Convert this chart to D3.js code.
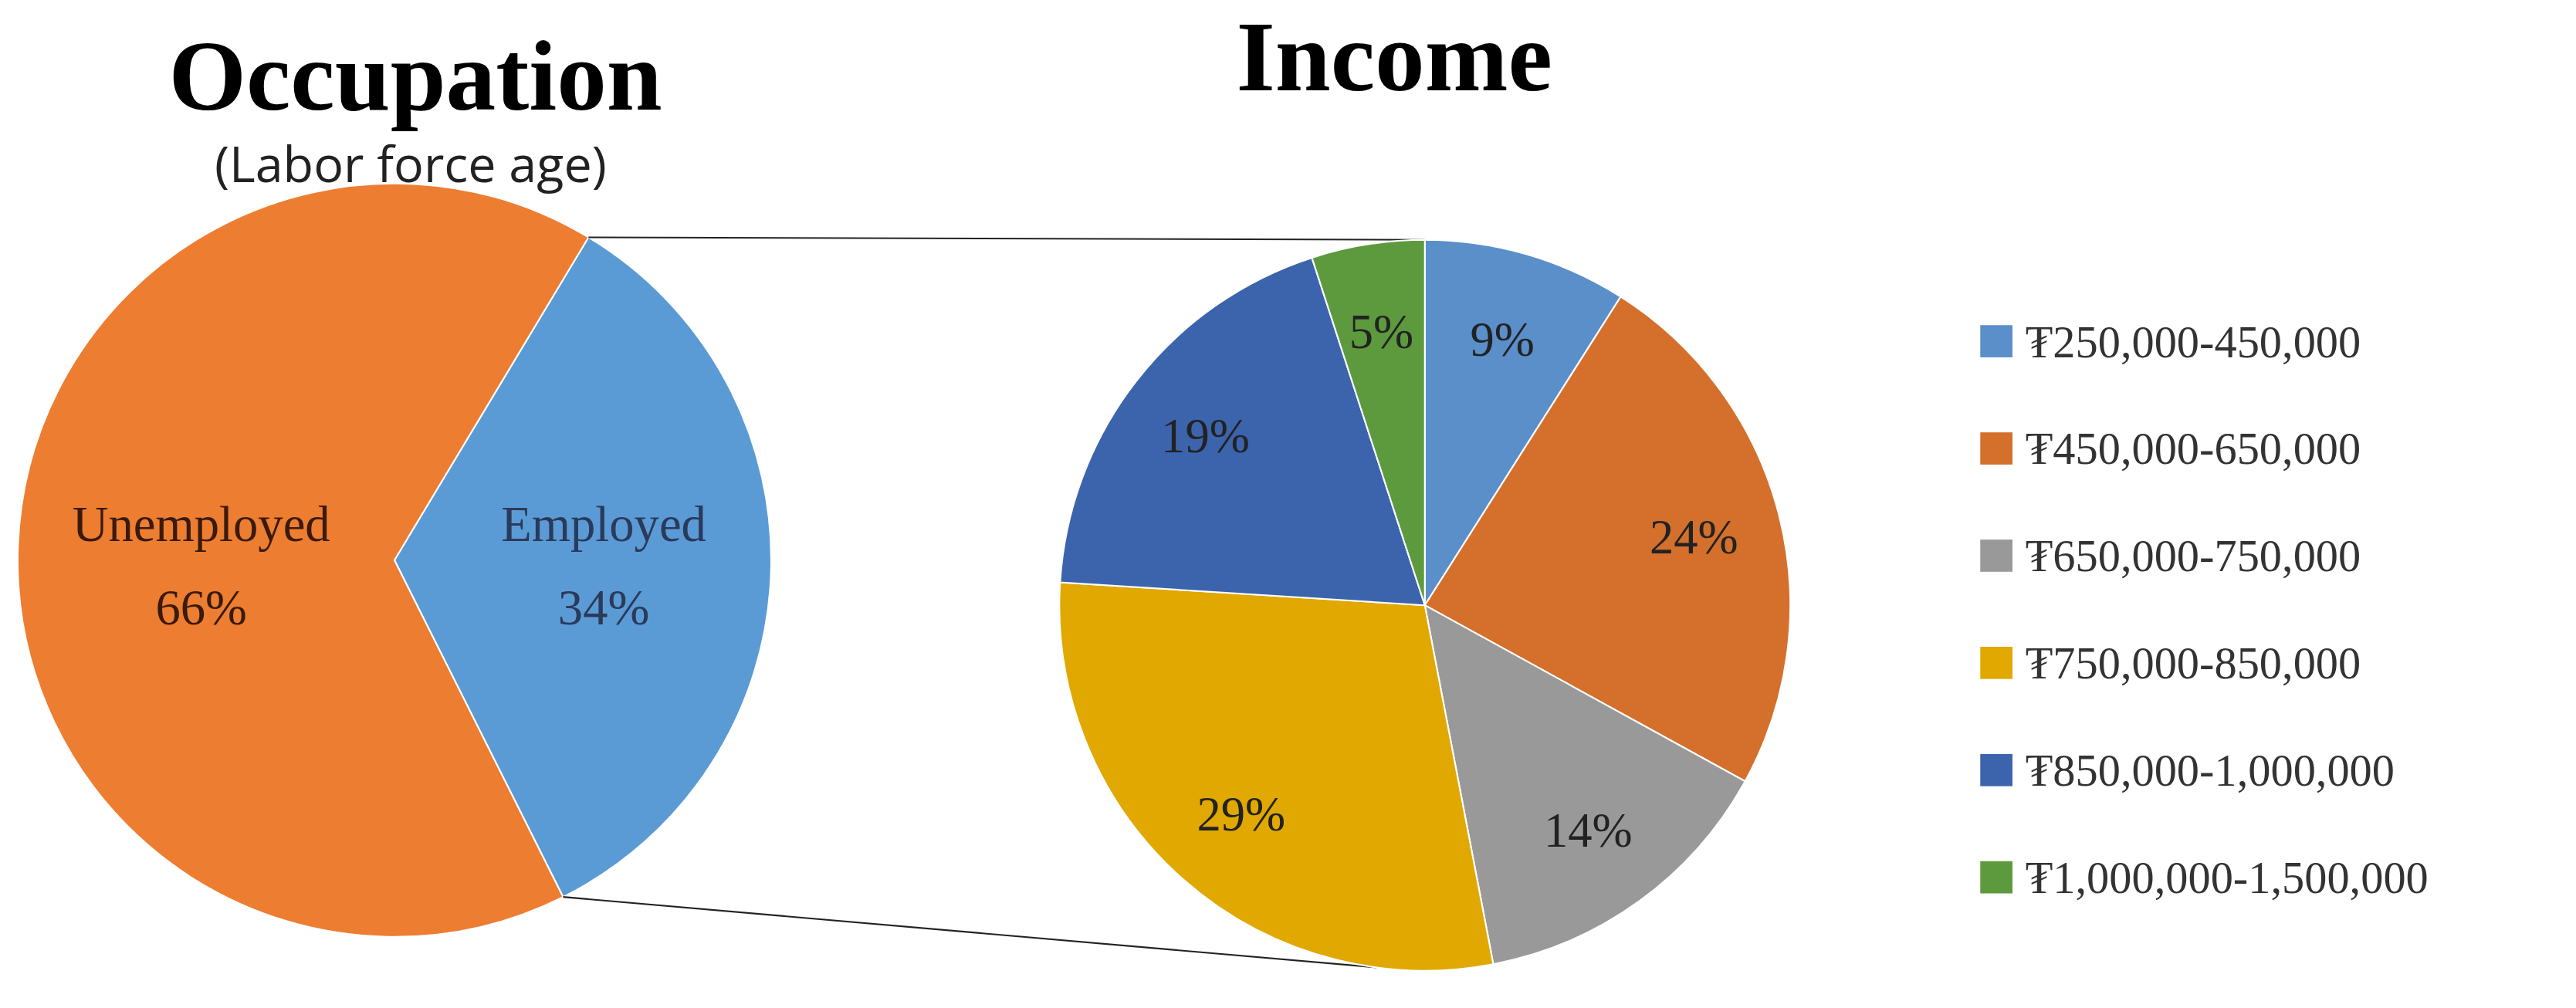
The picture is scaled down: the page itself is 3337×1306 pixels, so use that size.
<!DOCTYPE html><html><head><meta charset="utf-8">
<script src="https://cdn.jsdelivr.net/npm/d3@7"></script>
<style>body{margin:0;background:#fff}</style></head><body>
<svg id="c" width="3337" height="1306"></svg>
<script>
const occCategories=["Employed","Unemployed"];
const occValues=[34,66];
const occColors=["#5b9bd5","#ed7d31"];
const incCategories=["₮250,000-450,000","₮450,000-650,000","₮650,000-750,000","₮750,000-850,000","₮850,000-1,000,000","₮1,000,000-1,500,000"];
const incValues=[9,24,14,29,19,5];
const incColors=["#5a8fca","#d4702b","#999999","#e0a800","#3c64ad","#5d9a3e"];
const svg=d3.select("#c").append("g").attr("transform","scale(2.0856)");
const serif="'Liberation Serif','DejaVu Serif',serif";
const c1=[245,348],r1=234;
const start1=31*Math.PI/180;
const pie1=d3.pie().sort(null).startAngle(start1).endAngle(start1+2*Math.PI)(occValues);
const arc1=d3.arc().innerRadius(0).outerRadius(r1);
const g1=svg.append("g").attr("transform",`translate(${c1})`);
g1.selectAll("path").data(pie1).join("path").attr("d",arc1).attr("fill",(d,i)=>occColors[i]).attr("stroke","#fff").attr("stroke-width",1);
const lab1=[[130,-12],[-120,-12]];
pie1.forEach((d,i)=>{const t=g1.append("text").attr("text-anchor","middle").attr("font-family",serif).attr("font-size",31).attr("fill",i==0?"#2a3a5a":"#3a1a0a");
 t.append("tspan").attr("x",lab1[i][0]).attr("y",lab1[i][1]).text(occCategories[i]);
 t.append("tspan").attr("x",lab1[i][0]).attr("y",lab1[i][1]+52).text(occValues[i]+"%");});
const c2=[885,376],r2=227;
const pie2=d3.pie().sort(null)(incValues);
const arc2=d3.arc().innerRadius(0).outerRadius(r2);
const labArc=d3.arc().innerRadius(r2*0.76).outerRadius(r2*0.76);
const p1=[c1[0]+r1*Math.sin(start1),c1[1]-r1*Math.cos(start1)];
const e1=start1+pie1[0].endAngle-pie1[0].startAngle;
const p2=[c1[0]+r1*Math.sin(e1),c1[1]-r1*Math.cos(e1)];
svg.append("line").attr("x1",p1[0]).attr("y1",p1[1]).attr("x2",c2[0]).attr("y2",c2[1]-r2).attr("stroke","#222").attr("stroke-width",1);
svg.append("line").attr("x1",p2[0]).attr("y1",p2[1]).attr("x2",c2[0]-30).attr("y2",c2[1]+r2-2).attr("stroke","#222").attr("stroke-width",1);
const g2=svg.append("g").attr("transform",`translate(${c2})`);
g2.selectAll("path").data(pie2).join("path").attr("d",arc2).attr("fill",(d,i)=>incColors[i]).attr("stroke","#fff").attr("stroke-width",1);
g2.selectAll("text").data(pie2).join("text").attr("transform",d=>`translate(${labArc.centroid(d)})`).attr("dy","0.35em")
 .attr("text-anchor","middle").attr("font-family",serif).attr("font-size",30).attr("fill","#222").text(d=>d.data+"%");
svg.append("text").attr("x",258).attr("y",68).attr("text-anchor","middle").attr("font-family",serif).attr("font-weight","bold").attr("font-size",62).text("Occupation");
svg.append("text").attr("x",255).attr("y",113).attr("text-anchor","middle").attr("font-family","'Open Sans','Noto Sans',sans-serif").attr("font-size",31).attr("fill","#222").text("(Labor force age)");
svg.append("text").attr("x",866).attr("y",56).attr("text-anchor","middle").attr("font-family",serif).attr("font-weight","bold").attr("font-size",62).text("Income");
const lg=svg.append("g");
incCategories.forEach((t,i)=>{const y=212+i*66.6;
 lg.append("rect").attr("x",1230).attr("y",y-10).attr("width",20).attr("height",20).attr("fill",incColors[i]);
 lg.append("text").attr("x",1258).attr("y",y).attr("dy","0.35em").attr("font-family",serif).attr("font-size",28).attr("fill","#333").text(t);});
</script></body></html>
